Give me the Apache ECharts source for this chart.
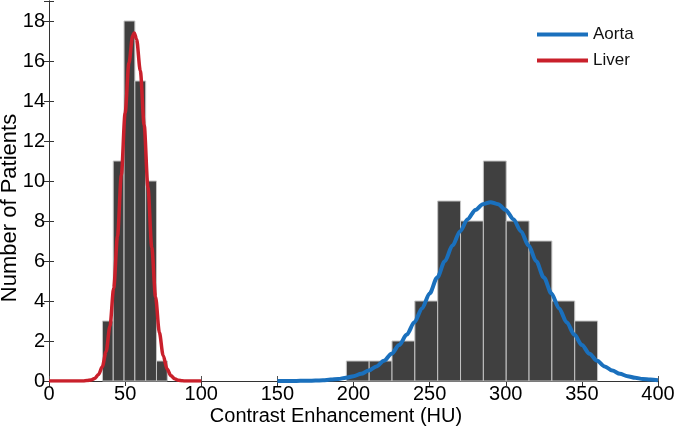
<!DOCTYPE html>
<html><head><meta charset="utf-8">
<script src="https://cdn.jsdelivr.net/npm/echarts@6/dist/echarts.min.js"></script>
<style>html,body{margin:0;padding:0;background:#fff}#c{width:674px;height:438px}</style>
</head><body><div id="c"></div>
<script>
// Histogram bins (HU edges) and counts
const liverBinEdges = [35.1, 42.2, 49.3, 56.4, 63.5, 70.6, 77.7];
const liverCounts = [3, 11, 18, 15, 10, 1];
const aortaBinEdges = [195.3, 210.3, 225.3, 240.3, 255.3, 270.3, 285.3, 300.3, 315.3, 330.3, 345.3, 360.3];
const aortaCounts = [1, 1, 2, 4, 9, 8, 11, 8, 7, 4, 3];

// Fitted curves
const liverCurveX = [0,5,10,15,20,22.5,25,27.5,30,32.5,35,37.5,40,42.5,45,47.5,50,52.5,55,56,57.5,60,62.5,65,67.5,70,72.5,75,77.5,80,82.5,85,87.5,90,95,100];
const liverCurveY = [0,0,0,0,0,0,0.02,0.05,0.13,0.32,0.71,1.46,2.72,4.65,7.24,10.3,13.4,15.9,17.28,17.4,17.1,15.5,12.8,9.67,6.68,4.2,2.42,1.27,0.61,0.27,0.11,0.04,0.01,0,0,0];
const aortaCurveX = [150,155,160,165,170,175,180,185,190,195,200,205,210,215,220,225,230,235,240,245,250,255,260,265,270,275,280,285,290,295,300,305,310,315,320,325,330,335,340,345,350,355,360,365,370,375,380,385,390,395,400];
const aortaCurveY = [0,0,0,0.01,0.01,0.02,0.04,0.07,0.10,0.16,0.24,0.36,0.52,0.73,1.01,1.36,1.80,2.32,2.94,3.63,4.38,5.18,5.99,6.77,7.48,8.09,8.55,8.84,8.94,8.84,8.55,8.09,7.48,6.77,5.99,5.18,4.38,3.63,2.94,2.32,1.80,1.36,1.01,0.73,0.52,0.36,0.24,0.16,0.10,0.07,0.04];

const seriesNames = ['Aorta', 'Liver'];
const xAxisTitle = 'Contrast Enhancement (HU)';
const yAxisTitle = 'Number of Patients';

const FONT = 'Liberation Sans, Arial, Helvetica, sans-serif';

function binData(edges, counts) {
  return counts.map((c, i) => [edges[i], edges[i + 1], c]);
}
function curveData(xs, ys) {
  return xs.map((x, i) => [x, ys[i]]);
}
function histRender(params, api) {
  const p0 = api.coord([api.value(0), api.value(2)]);
  const p1 = api.coord([api.value(1), 0]);
  return {
    type: 'rect',
    shape: { x: p0[0], y: p0[1], width: p1[0] - p0[0], height: p1[1] - p0[1] },
    style: { fill: '#404040', stroke: '#c4c4c4', lineWidth: 1 }
  };
}

const chart = echarts.init(document.getElementById('c'), null, { renderer: 'canvas' });
const frameColor = '#333';
chart.setOption({
  animation: false,
  backgroundColor: '#fff',
  textStyle: { fontFamily: FONT },
  grid: { left: 49, right: 16, top: 1, bottom: 57, containLabel: false, outerBoundsMode: 'none' },
  legend: {
    data: seriesNames,
    orient: 'vertical',
    left: 532, top: 21,
    icon: 'rect',
    itemWidth: 51, itemHeight: 4, itemGap: 9,
    textStyle: { fontSize: 17, color: '#111', fontFamily: FONT, lineHeight: 16 }
  },
  graphic: [
    { type: 'text', x: 336, y: 416, z: 10, silent: true,
      style: { text: xAxisTitle, fontSize: 20, fontFamily: FONT, fill: '#000', align: 'center', verticalAlign: 'middle' } },
    { type: 'text', x: 10, y: 208, rotation: Math.PI / 2, z: 10, silent: true,
      style: { text: yAxisTitle, fontSize: 22, fontFamily: FONT, fill: '#000', align: 'center', verticalAlign: 'middle' } }
  ],
  xAxis: [{
    type: 'value', min: 0, max: 400, interval: 50, position: 'bottom',
    axisLine: { show: true, lineStyle: { color: '#aaa', width: 1 } },
    axisTick: { show: true, inside: true, length: 5, lineStyle: { color: '#555' } },
    axisLabel: { fontSize: 20, color: '#000', margin: 3, fontFamily: FONT },
    splitLine: { show: false }
  }, {
    type: 'value', min: 0, max: 400, interval: 50, position: 'top',
    axisLine: { show: true, lineStyle: { color: frameColor, width: 1 } },
    axisTick: { show: true, inside: true, length: 5, lineStyle: { color: frameColor } },
    axisLabel: { show: false }, splitLine: { show: false }
  }],
  yAxis: [{
    type: 'value', min: 0, max: 19, interval: 2, position: 'left',
    axisLine: { show: true, lineStyle: { color: frameColor, width: 1 } },
    axisTick: { show: true, inside: true, length: 5, lineStyle: { color: frameColor } },
    axisLabel: { fontSize: 20, color: '#000', margin: 4, fontFamily: FONT,
      formatter: v => (v % 2 === 0 ? String(v) : '') },
    splitLine: { show: false }
  }, {
    type: 'value', min: 0, max: 19, interval: 2, position: 'right',
    axisLine: { show: true, lineStyle: { color: frameColor, width: 1 } },
    axisTick: { show: true, inside: true, length: 5, lineStyle: { color: frameColor } },
    axisLabel: { show: false }, splitLine: { show: false }
  }],
  series: [
    { type: 'custom', name: 'liverHist', renderItem: histRender, data: binData(liverBinEdges, liverCounts),
      encode: { x: [0, 1], y: 2 }, z: 1, silent: true },
    { type: 'custom', name: 'aortaHist', renderItem: histRender, data: binData(aortaBinEdges, aortaCounts),
      encode: { x: [0, 1], y: 2 }, z: 1, silent: true },
    { type: 'line', name: 'Aorta', data: curveData(aortaCurveX, aortaCurveY), showSymbol: false, symbol: 'none',
      smooth: 0.3, smoothMonotone: 'x', color: '#1a70bd',
      lineStyle: { width: 4, color: '#1a70bd' }, z: 3 },
    { type: 'line', name: 'Liver', data: curveData(liverCurveX, liverCurveY), showSymbol: false, symbol: 'none',
      smooth: 0.3, smoothMonotone: 'x', color: '#c9202b',
      lineStyle: { width: 3.5, color: '#c9202b' }, z: 3 }
  ]
});
</script>
</body></html>
